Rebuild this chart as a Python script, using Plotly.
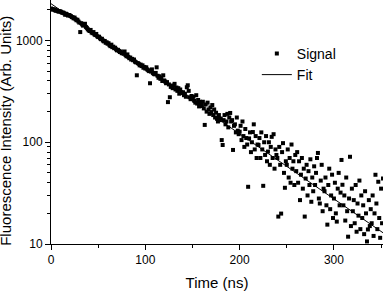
import plotly.graph_objects as go

# Fluorescence decay signal, one sample per ns
signal = [
    2060, 2040, 2010, 2030, 1990, 1960, 1985, 1950, 1920, 1940,
    1930, 1900, 1870, 1880, 1850, 1790, 1830, 1800, 1760, 1780,
    1760, 1740, 1700, 1690, 1650, 1680, 1620, 1580, 1600, 1540,
    1500, 1210, 1480, 1440, 1400, 1420, 1460, 1360, 1330, 1290,
    1260, 1240, 1270, 1200, 1180, 1210, 1150, 1130, 1160, 1100,
    1080, 1090, 1050, 1030, 1040, 1000, 980, 990, 950, 960,
    930, 940, 900, 880, 910, 860, 870, 840, 850, 820,
    800, 810, 790, 770, 780, 750, 760, 740, 780, 720,
    700, 730, 690, 670, 680, 650, 660, 640, 650, 620,
    610, 455, 600, 590, 570, 580, 560, 570, 540, 550,
    530, 545, 520, 510, 500, 380, 495, 520, 480, 470,
    465, 480, 545, 450, 430, 445, 420, 430, 400, 455,
    405, 395, 380, 390, 248, 370, 277, 350, 360, 340,
    360, 375, 330, 345, 320, 340, 300, 330, 310, 305,
    310, 290, 300, 280, 347, 363, 320, 277, 265, 285,
    268, 280, 255, 245, 290, 240, 260, 225, 250, 235,
    231, 250, 215, 148, 235, 200, 245, 210, 190, 220,
    198, 232, 185, 210, 175, 195, 170, 160, 185, 165,
    171, 105, 94, 165, 185, 150, 160, 190, 140, 175,
    194, 160, 165, 84, 145, 150, 125, 175, 130, 120,
    127, 145, 105, 160, 115, 90, 135, 110, 95, 36.5,
    109, 125, 80, 100, 126, 150, 85, 115, 70, 95,
    94, 110, 70, 125, 85, 37.3, 100, 75, 115, 65,
    81, 100, 60, 90, 113, 70, 120, 55, 85, 75,
    70, 18.6, 90, 60, 19.9, 80, 98, 50, 35.7, 65,
    60, 85, 45, 70, 40, 95, 55, 65, 38, 75,
    52, 80, 40, 65, 27, 48, 70, 35, 55, 18.6,
    44, 60, 30, 52, 38, 68, 26, 45, 33, 58,
    38, 50, 70, 78.5, 28, 25, 42, 60, 21, 35,
    33, 45, 24, 15.5, 38, 55, 22, 30, 48, 18,
    28, 40, 20, 16.6, 35, 50, 24, 32, 67, 38.2,
    24, 30, 17, 45, 21, 11.8, 28, 72, 15, 35,
    21, 27, 16, 38, 13.2, 25, 19, 42, 14, 30,
    18, 24, 12.5, 33, 20, 10.6, 13.9, 27, 15, 22,
    16, 30, 12, 20, 47.9, 25, 14, 40.9, 18, 11.5,
    35, 16, 44,
]
time_ns = list(range(len(signal)))

# Fitted single-exponential decay (straight line on the log axis): end points
fit_time = [0, 352]
fit_intensity = [2300, 12.9]

x_major = [0, 100, 200, 300]
x_minor = [50, 150, 250, 350]
y_major = [10, 100, 1000]
y_major_text = ["10", "100", "1000"]
y_minor = [20, 30, 40, 50, 60, 70, 80, 90,
           200, 300, 400, 500, 600, 700, 800, 900, 2000]

FONT = "Liberation Sans, Arial, Helvetica, sans-serif"

fig = go.Figure()
fig.add_trace(go.Scatter(
    x=time_ns, y=signal, mode="markers", name="Signal",
    marker=dict(symbol="square", size=4, color="black", line=dict(width=0)),
))
fig.add_trace(go.Scatter(
    x=fit_time, y=fit_intensity, mode="lines", name="Fit",
    line=dict(color="black", width=1),
))

fig.update_layout(
    width=383, height=291,
    margin=dict(l=51, r=0, t=0, b=47),
    paper_bgcolor="white", plot_bgcolor="white",
    font=dict(family=FONT, size=12, color="black"),
    showlegend=True,
    legend=dict(x=0.62, y=0.845, xanchor="left", yanchor="top",
                bgcolor="rgba(0,0,0,0)", font=dict(size=14, family=FONT),
                tracegroupgap=0),
    xaxis=dict(
        range=[0, 352], showline=True, linecolor="black", linewidth=1,
        showgrid=False, zeroline=False, ticks="outside", ticklen=5,
        tickcolor="black", tickvals=x_major, tickfont=dict(size=12),
        minor=dict(tickvals=x_minor, ticks="outside", ticklen=3,
                   tickcolor="black", showgrid=False),
        title=dict(text="Time (ns)", font=dict(size=15), standoff=11),
    ),
    yaxis=dict(
        type="log", range=[1, 3.398], showline=True, linecolor="black",
        linewidth=1, showgrid=False, zeroline=False, ticks="outside",
        ticklen=5, tickcolor="black", tickvals=y_major, ticktext=y_major_text,
        tickfont=dict(size=12),
        minor=dict(tickvals=y_minor, ticks="outside", ticklen=3,
                   tickcolor="black", showgrid=False),
    ),
    annotations=[dict(
        text="Fluorescence Intensity (Arb. Units)", textangle=-90,
        xref="paper", yref="paper", x=-0.137, y=0.462,
        xanchor="center", yanchor="middle", showarrow=False,
        font=dict(size=15, family=FONT, color="black"),
    )],
)

fig.write_html(
    "out.html",
    config={"displayModeBar": False},
    post_script="document.body.style.margin='0';document.body.style.padding='0';",
)
